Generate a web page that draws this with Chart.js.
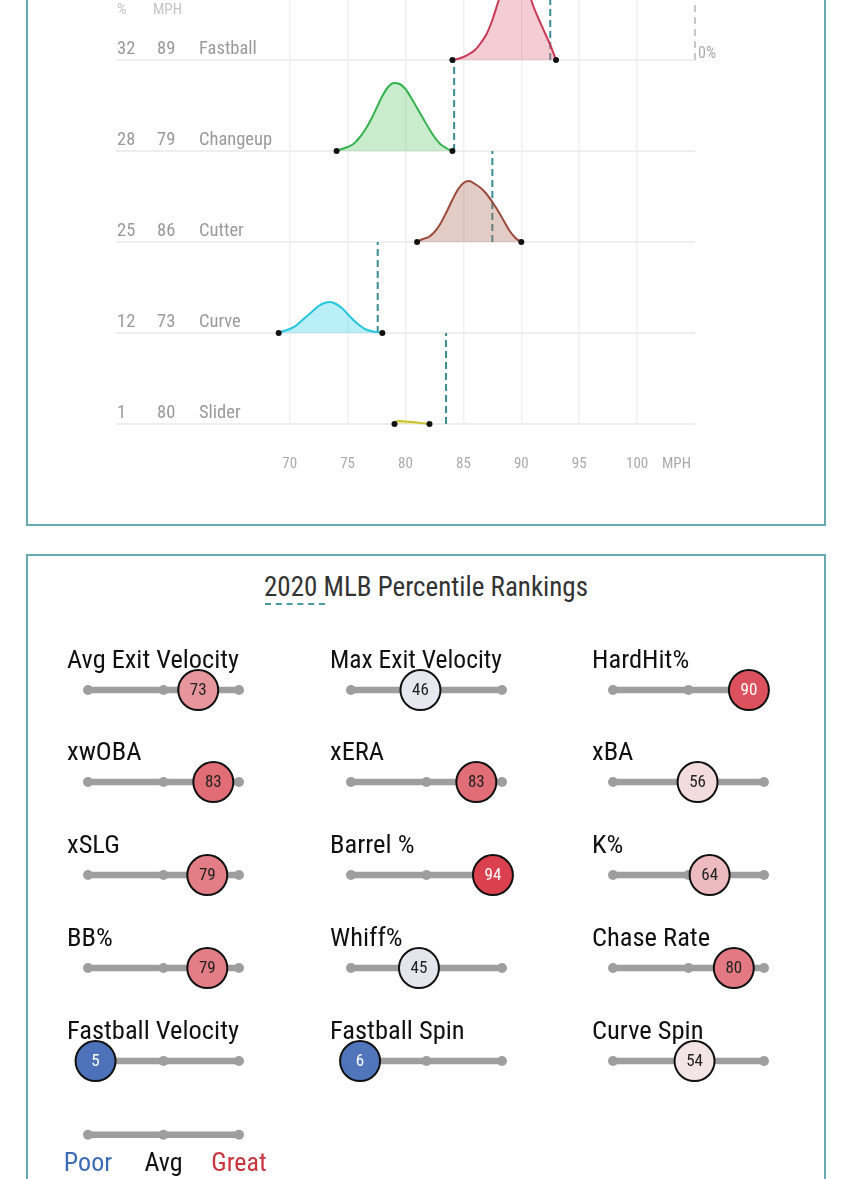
<!DOCTYPE html>
<html>
<head>
<meta charset="utf-8">
<script src="https://cdn.jsdelivr.net/npm/chart.js@4.4.1/dist/chart.umd.min.js"></script>
<style>
  html, body { margin: 0; padding: 0; background: #fff; width: 850px; height: 1179px; overflow: hidden; position: relative; }
  .panel { position: absolute; left: 26px; width: 800px; box-sizing: border-box; border: 2px solid #6aa9ae; background: #fff; }
  canvas { position: absolute; }
  #ttl { position: absolute; left: 0; width: 852px; top: 571px; text-align: center; font-size: 27px; line-height: 32px; color: #333;
         font-family: 'Roboto Condensed','Liberation Sans Narrow','DejaVu Sans Condensed',Roboto,sans-serif; }
  #ul { position: absolute; left: 265px; top: 603px; width: 60px; border-top: 2px dashed #4a9aa0; }
</style>
</head>
<body>
<div class="panel" style="top:-100px;height:626px;"></div>
<div class="panel" style="top:554px;height:700px;"></div>
<canvas id="ridge" width="850" height="600" style="left:0;top:-100px;width:850px;height:600px;"></canvas>
<div id="ttl">2020 MLB Percentile Rankings</div>
<div id="ul"></div>
<div id="cells"></div>
<script>
const FONT = "'Roboto Condensed','Liberation Sans Narrow','DejaVu Sans Condensed',Roboto,sans-serif";
Chart.defaults.font.family = FONT;
Chart.defaults.animation = false;

// ---------- Pitch data ----------
const pitchNames = ['Fastball', 'Changeup', 'Cutter', 'Curve', 'Slider'];
const pitchUsage = [32, 28, 25, 12, 1];
const pitchAvgMph = [89, 79, 86, 73, 80];
const pitchMarkerMph = [92.5, 84.2, 87.5, 77.6, 83.5];
const xTicks = [70, 75, 80, 85, 90, 95, 100];

const fastballMph = [84.05,84.5,85,85.5,86,86.5,87,87.5,88,88.5,89,89.5,90,90.5,91,91.5,92,92.5,93];
const fastballDens = [0,1,3,6,10,17,26,40,58,76,88,93,88,74,55,41,28,15,0];
const changeupMph = [74.05,74.5,75,75.5,76,76.5,77,77.5,78,78.5,79,79.5,80,80.5,81,81.5,82,82.5,83,83.5,84.05];
const changeupDens = [0,2,4,7,13,21,31,43,55,64,68,67,62,53,43,33,23,14,7,3,0];
const cutterMph = [81,81.5,82,82.5,83,83.5,84,84.5,85,85.5,86,86.5,87,87.5,88,88.5,89,89.5,90];
const cutterDens = [0,3,5,10,18,29,41,52,59,61,58,54,48,40,31,21,11,4,0];
const curveMph = [69.05,69.5,70,70.5,71,71.5,72,72.5,73,73.5,74,74.5,75,75.5,76,76.5,77,77.5,78];
const curveDens = [0,2,4,7,12,17,22,27,30,31,29,25,19,13,8,4,2,1,0];
const sliderMph = [79.05,79.3,80,81,82.07];
const sliderDens = [0,3,2.5,1.5,0];

const densMph = [fastballMph, changeupMph, cutterMph, curveMph, sliderMph];
const densVal = [fastballDens, changeupDens, cutterDens, curveDens, sliderDens];
const lineColors = ['#c93a57', '#33b24d', '#9b4a3b', '#27c6dd', '#c9c22c'];
const fillColors = ['rgba(226,120,140,0.38)', 'rgba(90,200,100,0.33)', 'rgba(170,100,80,0.33)', 'rgba(60,210,235,0.35)', 'rgba(220,210,60,0.3)'];
const ROW_MAX = 91;

// ---------- Percentile data ----------
const metricNames = ['Avg Exit Velocity','Max Exit Velocity','HardHit%','xwOBA','xERA','xBA','xSLG','Barrel %','K%','BB%','Whiff%','Chase Rate','Fastball Velocity','Fastball Spin','Curve Spin'];
const metricPct = [73,46,90,83,83,56,79,94,64,79,45,80,5,6,54];
const legendLabels = ['Poor', 'Avg', 'Great'];
const legendColors = ['#3d6bb3', '#111111', '#c9353f'];
const trackStops = [0, 50, 100];

// ---------- Ridgeline chart ----------
const datasets = [];
const scales = {
  x: {
    type: 'linear', min: 55, max: 105,
    afterBuildTicks: a => { a.ticks = xTicks.map(v => ({ value: v })); },
    afterFit: a => { a.height = 60; },
    grid: { color: '#f0f0f0', lineWidth: 1.5, drawTicks: false },
    border: { display: false },
    ticks: { color: '#aaaaaa', font: { size: 15 }, padding: 31, maxRotation: 0 }
  }
};
// stacked axes are laid out bottom-up in insertion order, so insert the last row first
for (let i = pitchNames.length - 1; i >= 0; i--) {
  scales['y' + i] = {
    type: 'linear', position: 'left', stack: 'rows', stackWeight: 1, min: 0, max: ROW_MAX,
    afterBuildTicks: a => { a.ticks = [{ value: 0 }]; },
    afterFit: a => { a.width = 0; },
    ticks: { display: false },
    grid: { color: '#eeeeee', lineWidth: 2, drawTicks: false },
    border: { display: false }
  };
}
pitchNames.forEach((name, i) => {
  const id = 'y' + i;
  const pts = densMph[i].map((m, k) => ({ x: m, y: densVal[i][k] }));
  datasets.push({
    type: 'line', label: name, yAxisID: id, data: pts,
    borderColor: lineColors[i], backgroundColor: fillColors[i], borderWidth: 2,
    fill: 'origin', cubicInterpolationMode: 'monotone', clip: false,
    pointRadius: pts.map((p, k) => (k === 0 || k === pts.length - 1) ? 3 : 0),
    pointBackgroundColor: '#111', pointBorderColor: '#111', pointBorderWidth: 0
  });
  datasets.push({
    type: 'line', label: name + ' marker', yAxisID: id,
    data: [{ x: pitchMarkerMph[i], y: 0 }, { x: pitchMarkerMph[i], y: ROW_MAX }],
    borderColor: '#3a8d93', borderWidth: 2, borderDash: [7, 4], pointRadius: 0, fill: false
  });
});
datasets.push({
  type: 'line', label: 'zero', yAxisID: 'y0',
  data: [{ x: 105, y: 0 }, { x: 105, y: ROW_MAX }],
  borderColor: '#c8c8c8', borderWidth: 2, borderDash: [7, 5], pointRadius: 0, fill: false, clip: false
});

const ridgeText = {
  id: 'ridgeText',
  afterDraw(chart) {
    const ctx = chart.ctx;
    ctx.save();
    ctx.textBaseline = 'middle';
    ctx.textAlign = 'left';
    pitchNames.forEach((name, i) => {
      const y0 = chart.scales['y' + i].getPixelForValue(0);
      ctx.fillStyle = '#9a9a9a';
      ctx.font = '18.5px ' + FONT;
      ctx.fillText(String(pitchUsage[i]), 117, y0 - 11);
      ctx.fillText(String(pitchAvgMph[i]), 157, y0 - 11);
      ctx.fillText(name, 199, y0 - 11);
    });
    const yf = chart.scales.y0.getPixelForValue(0);
    ctx.fillStyle = '#c4c4c4';
    ctx.font = '15px ' + FONT;
    ctx.fillText('%', 117, yf - 50);
    ctx.fillText('MPH', 153, yf - 50);
    ctx.fillStyle = '#aaaaaa';
    ctx.font = '16px ' + FONT;
    ctx.fillText('0%', chart.scales.x.getPixelForValue(105) + 3, yf - 6);
    ctx.font = '15px ' + FONT;
    ctx.fillText('MPH', 662, chart.scales.x.top + 31 + 9);
    ctx.restore();
  }
};

new Chart(document.getElementById('ridge'), {
  data: { datasets },
  options: {
    responsive: false, animation: false,
    layout: { autoPadding: false, padding: { left: 116, right: 155, top: 69, bottom: 16 } },
    plugins: { legend: { display: false }, tooltip: { enabled: false } },
    scales
  },
  plugins: [ridgeText]
});

// ---------- Percentile sliders ----------
function pctColor(p) {
  const mid = [246, 244, 244], hi = [214, 40, 55], lo = [58, 100, 178];
  const t = Math.abs(p - 50) / 50;
  const end = p >= 50 ? hi : lo;
  const c = mid.map((m, k) => Math.round(m + (end[k] - m) * t));
  return 'rgb(' + c.join(',') + ')';
}

const bubbleText = {
  id: 'bubbleText',
  afterDatasetsDraw(chart) {
    const ds = chart.data.datasets.find(d => d.type === 'bubble');
    if (!ds) return;
    const ctx = chart.ctx;
    const p = ds.data[0];
    const x = chart.scales.x.getPixelForValue(p.x);
    const y = chart.scales.y.getPixelForValue(0);
    ctx.save();
    ctx.font = '17px ' + FONT;
    ctx.textAlign = 'center';
    ctx.textBaseline = 'middle';
    ctx.fillStyle = (p.x >= 88 || p.x <= 15) ? '#ffffff' : '#222222';
    ctx.fillText(String(p.x), x, y + 1);
    ctx.restore();
  }
};

const colLeft = [67, 330, 592];
const rowTrackY = [690, 782, 875, 968, 1061];
const cells = document.getElementById('cells');

function trackDataset() {
  return {
    type: 'line', order: 2, data: trackStops.map(v => ({ x: v, y: 0 })),
    borderColor: '#9e9e9e', borderWidth: 6.5, pointRadius: 5, pointHoverRadius: 5,
    pointBackgroundColor: '#9e9e9e', pointBorderWidth: 0, fill: false, clip: false
  };
}

metricNames.forEach((name, i) => {
  const c = document.createElement('canvas');
  const left = colLeft[i % 3], top = rowTrackY[Math.floor(i / 3)] - 46;
  c.width = 215; c.height = 72;
  c.style.cssText = `left:${left}px;top:${top}px;width:215px;height:72px;`;
  cells.appendChild(c);
  new Chart(c, {
    data: {
      datasets: [
        {
          type: 'bubble', order: 1, data: [{ x: metricPct[i], y: 0, r: 20 }],
          backgroundColor: pctColor(metricPct[i]), borderColor: '#111', borderWidth: 2, clip: false
        },
        trackDataset()
      ]
    },
    options: {
      responsive: false, animation: false,
      layout: { autoPadding: false, padding: { left: 0, right: 43, top: 0, bottom: 12 } },
      plugins: {
        legend: { display: false }, tooltip: { enabled: false },
        title: { display: true, text: name, align: 'start', color: '#111', font: { size: 26.5, weight: 'normal', lineHeight: 1.1 }, padding: { top: 3, bottom: 0 } }
      },
      scales: {
        x: { type: 'linear', min: 0, max: 100, display: false },
        y: {
          type: 'linear', min: -1, max: 1, display: true,
          afterFit: a => { a.width = 21; },
          ticks: { display: false }, grid: { display: false, drawTicks: false }, border: { display: false }
        }
      }
    },
    plugins: [bubbleText]
  });
});

// ---------- Legend slider ----------
(function () {
  const c = document.createElement('canvas');
  c.width = 250; c.height = 66;
  c.style.cssText = 'left:47px;top:1113px;width:250px;height:66px;';
  cells.appendChild(c);
  new Chart(c, {
    data: { datasets: [trackDataset()] },
    options: {
      responsive: false, animation: false,
      layout: { autoPadding: false, padding: { left: 0, right: 58, top: 6, bottom: 0 } },
      plugins: { legend: { display: false }, tooltip: { enabled: false } },
      scales: {
        x: {
          type: 'linear', min: 0, max: 100,
          afterBuildTicks: a => { a.ticks = trackStops.map(v => ({ value: v })); },
          afterFit: a => { a.paddingLeft = 0; a.paddingRight = 0; },
          grid: { display: false, drawTicks: false }, border: { display: false },
          ticks: {
            padding: 0, maxRotation: 0, font: { size: 26, lineHeight: 1.1 },
            callback: (v, k) => legendLabels[k],
            color: ctx => legendColors[ctx.index]
          }
        },
        y: {
          type: 'linear', min: -1, max: 1,
          afterFit: a => { a.width = 41; },
          ticks: { display: false }, grid: { display: false, drawTicks: false }, border: { display: false }
        }
      }
    }
  });
})();
</script>
</body>
</html>
